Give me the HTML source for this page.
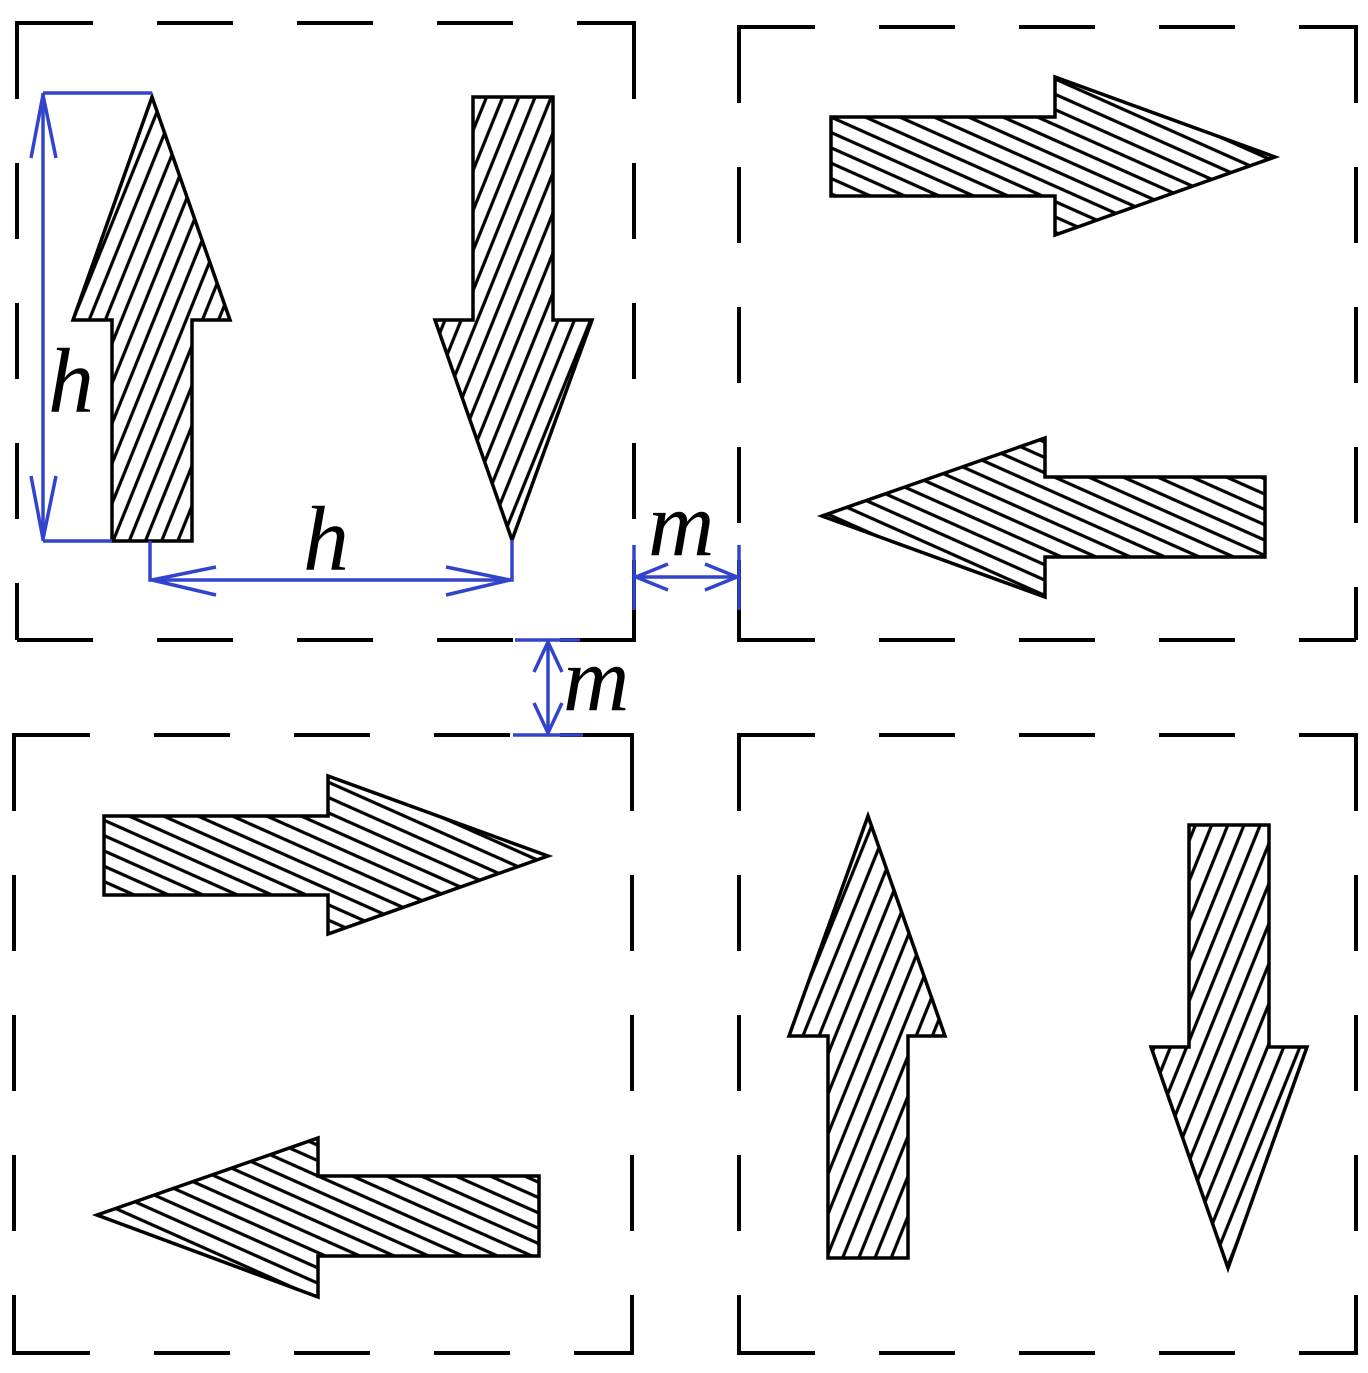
<!DOCTYPE html>
<html><head><style>html,body{margin:0;padding:0;background:#fff}</style></head>
<body>
<svg width="1368" height="1368" viewBox="0 0 1368 1368" xmlns="http://www.w3.org/2000/svg">
<defs>
<pattern id="hv" patternUnits="userSpaceOnUse" width="15" height="15" patternTransform="rotate(-68)">
<line x1="0" y1="7.5" x2="15" y2="7.5" stroke="#000" stroke-width="3.2"/>
</pattern>
<pattern id="hh" patternUnits="userSpaceOnUse" width="14" height="14" patternTransform="rotate(24)">
<line x1="0" y1="7" x2="14" y2="7" stroke="#000" stroke-width="3.2"/>
</pattern>
</defs>
<g fill="none" stroke="#000" stroke-width="4" stroke-dasharray="76 64">
<path d="M17 23 H634"/><path d="M17 23 V640"/><path d="M634 23 V640"/><path d="M17 640 H634"/>
<path d="M739 27 H1356"/><path d="M739 27 V640"/><path d="M1356 27 V640"/><path d="M739 640 H1356"/>
<path d="M14 735 H632"/><path d="M14 735 V1353"/><path d="M632 735 V1353"/><path d="M14 1353 H632"/>
<path d="M739 735 H1356"/><path d="M739 735 V1353"/><path d="M1356 735 V1353"/><path d="M739 1353 H1356"/>
</g>
<g fill="none" stroke="#000" stroke-width="4">
<path d="M634 560 V640 H560"/><path d="M739 560 V640 H800"/>
<path d="M560 735 H632 V800"/><path d="M739 800 V735 H800"/>
<path d="M17 60 V23 H60"/><path d="M14 1310 V1353 H60"/><path d="M1356 1310 V1353 H1300"/><path d="M739 1310 V1353 H800"/><path d="M632 1310 V1353 H590"/><path d="M1356 70 V27 H1300"/><path d="M739 70 V27 H790"/><path d="M634 60 V23 H590"/><path d="M14 780 V735 H60"/><path d="M1356 780 V735 H1300"/>
</g>
<g stroke="#000" stroke-width="3.5" stroke-linejoin="miter">
<polygon fill="url(#hv)" points="152,97 230,320 192,320 192,541 112,541 112,320 73,320"/>
<polygon fill="url(#hv)" points="473,97 553,97 553,320 592,320 512,540 435,320 473,320"/>
<polygon fill="url(#hh)" points="831,117 1055,117 1055,77 1275,157 1055,235 1055,196 831,196"/>
<polygon fill="url(#hh)" points="822,516 1045,438 1045,477 1265,477 1265,557 1045,557 1045,597"/>
<polygon fill="url(#hh)" points="104,816 328,816 328,776 548,856 328,934 328,895 104,895"/>
<polygon fill="url(#hh)" points="97,1215 318,1138 318,1176 539,1176 539,1256 318,1256 318,1297"/>
<polygon fill="url(#hv)" points="868,816 945,1036 908,1036 908,1258 828,1258 828,1036 789,1036"/>
<polygon fill="url(#hv)" points="1189,825 1269,825 1269,1047 1307,1047 1228,1268 1151,1047 1189,1047"/>
</g>
<g fill="none" stroke="#3344cc" stroke-width="3.5">
<path d="M43 93 H152 M43 541 H112 M43 93 V541"/>
<path d="M31 158 L43 95 L56 158 M31 476 L43 539 L56 476"/>
<path d="M150 541 V580 H512 V540"/>
<path d="M216 567 L152 580 L216 595 M446 567 L510 580 L446 595"/>
<path d="M634 545 V610 M739 545 V610 M634 577 H739"/>
<path d="M668 564 L636 577 L668 590 M705 564 L737 577 L705 590"/>
<path d="M515 640 H580 M513 735 H583 M548 640 V735"/>
<path d="M534 672 L548 642 L562 672 M534 703 L548 733 L562 703"/>
</g>
<g font-family="Liberation Serif, serif" font-style="italic" font-size="92" fill="#000">
<text x="48" y="412">h</text>
<text x="303" y="570">h</text>
<text x="648" y="555">m</text>
<text x="563" y="710">m</text>
</g>
</svg>
</body></html>
